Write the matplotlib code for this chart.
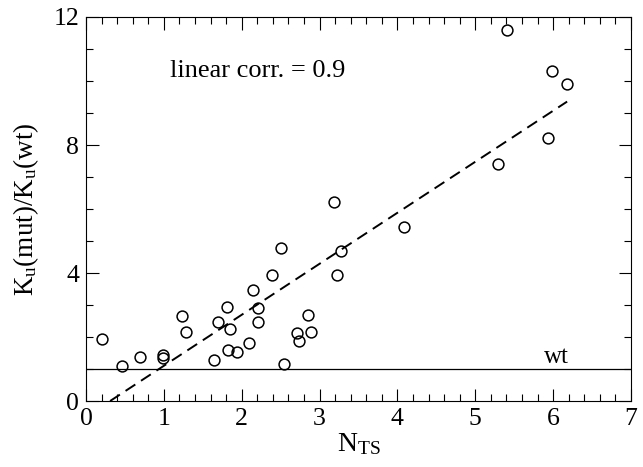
import matplotlib

matplotlib.use("Agg")

import matplotlib.pyplot as plt
import numpy as np
from matplotlib.ticker import MultipleLocator

plt.rcParams["font.family"] = ["Liberation Serif", "DejaVu Serif"]
plt.rcParams["mathtext.default"] = "regular"

n_ts = [0.20, 0.465, 0.69, 0.99, 0.99, 1.235, 1.29, 1.64, 1.70, 1.81, 1.855,
        1.82, 1.94, 2.09, 2.15, 2.21, 2.21, 2.39, 2.51, 2.54, 2.71, 2.73,
        2.85, 2.89, 3.18, 3.23, 3.28, 4.08, 5.29, 5.41, 5.94, 5.98, 6.18]
ku_ratio = [1.95, 1.10, 1.37, 1.43, 1.34, 2.65, 2.16, 1.29, 2.48, 2.95, 2.24,
            1.59, 1.52, 1.82, 3.47, 2.91, 2.48, 3.95, 4.79, 1.16, 2.11, 1.87,
            2.70, 2.17, 6.23, 3.94, 4.70, 5.45, 7.42, 11.59, 8.21, 10.31, 9.91]

# fitted line
fit_slope = 1.594
fit_x0 = 0.31
fit_x_end = 6.18
wt_level = 1.0

fig = plt.figure(figsize=(6.43, 4.67), dpi=100)
ax = fig.add_axes([0.1337, 0.1413, 0.8476, 0.8223])

ax.axhline(wt_level, color="black", lw=0.9)
fit_x = np.array([fit_x0, fit_x_end])
ax.plot(fit_x, fit_slope * (fit_x - fit_x0), color="black", lw=1.4,
        linestyle=(0, (6, 3.5)))
ax.plot(n_ts, ku_ratio, "o", mfc="none", mec="black", ms=7.8, mew=1.1)

ax.text(6.04, wt_level + 0.02, "wt", fontsize=18, ha="center", va="bottom")
ax.text(1.08, 10.3, "linear corr. = 0.9", fontsize=19, ha="left", va="center")

ax.set_xlim(0, 7)
ax.set_ylim(0, 12)
ax.xaxis.set_major_locator(MultipleLocator(1))
ax.xaxis.set_minor_locator(MultipleLocator(0.2))
ax.yaxis.set_major_locator(MultipleLocator(4))
ax.yaxis.set_minor_locator(MultipleLocator(1))
ax.tick_params(which="both", direction="in", top=True, right=True,
               labelsize=18.5, width=0.8)
ax.tick_params(which="major", length=9, pad=5)
ax.tick_params(which="minor", length=5)

ax.set_xlabel("N$_{TS}$", fontsize=20, labelpad=1)
ax.set_ylabel("K$_u$(mut)/K$_u$(wt)", fontsize=19.5, labelpad=9)

fig.savefig("out.png", dpi=100)
